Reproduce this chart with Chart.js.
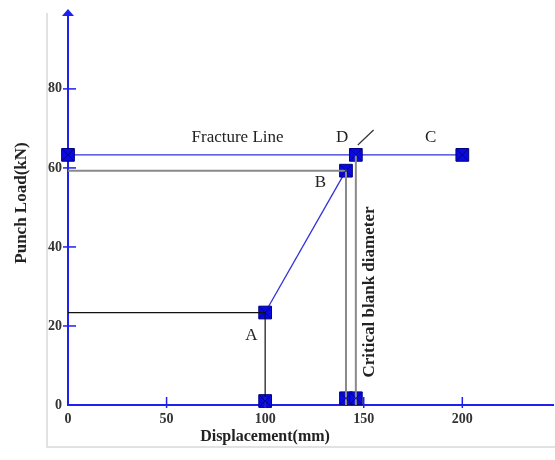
<!DOCTYPE html>
<html lang="en">
<head>
    <meta charset="UTF-8">
    <title>Punch Load vs Displacement</title>
    <script src="https://cdn.jsdelivr.net/npm/chart.js"></script>
    <style>
        html, body { margin: 0; padding: 0; background: #fff; }
        #wrap { width: 555px; height: 460px; position: relative; }
    </style>
</head>
<body>
    <div id="wrap"><canvas id="chart" width="555" height="460"></canvas></div>

    <script>
        // values
        const xTicks = [0, 50, 100, 150, 200];
        const yTicks = [0, 20, 40, 60, 80];

        const fractureX = [0, 146, 200];
        const fractureY = [63.3, 63.3, 63.3];

        const pathX = [100, 141];
        const pathY = [23.4, 59.3];

        const baseX = [100, 141, 146];
        const baseY = [1, 1.7, 1.7];

        const guideAX = [0, 100, 100];
        const guideAY = [23.4, 23.4, 0];
        const guideBX = [0, 141, 141];
        const guideBY = [59.3, 59.3, 0];
        const guideDX = [146, 146];
        const guideDY = [63.3, 0];
        const slashX = [147, 155];
        const slashY = [65.8, 69.6];

        const notes = [
            { text: 'Fracture Line', x: 86, y: 67.8 },
            { text: 'D', x: 139, y: 67.6 },
            { text: 'B', x: 128, y: 56.2 },
            { text: 'C', x: 184, y: 67.8 },
            { text: 'A', x: 93, y: 17.5 }
        ];

        const pts = (xs, ys) => xs.map((x, i) => ({ x: x, y: ys[i] }));
        const BLUE = '#2020ee';
        const SERIF = '"Liberation Serif", "DejaVu Serif", serif';

        function lineSet(xs, ys, color, width) {
            return {
                data: pts(xs, ys), showLine: true, borderColor: color, borderWidth: width,
                pointRadius: 0, pointHoverRadius: 0, clip: false, marker: false
            };
        }
        function markSet(xs, ys, line) {
            return {
                data: pts(xs, ys), showLine: line, borderColor: line ? '#3030dd' : '#000080',
                borderWidth: 1.3, pointStyle: 'rect', pointRadius: 9,
                pointBackgroundColor: '#0a0ae0', pointBorderColor: '#000080', pointBorderWidth: 1,
                clip: false, marker: true
            };
        }

        const decor = {
            id: 'decor',
            beforeDraw(chart) {
                const ctx = chart.ctx;
                ctx.save();
                ctx.strokeStyle = '#e2e2e2';
                ctx.lineWidth = 2;
                ctx.beginPath();
                ctx.moveTo(47, 13);
                ctx.lineTo(47, 447);
                ctx.lineTo(555, 447);
                ctx.stroke();
                ctx.restore();
            },
            afterDraw(chart) {
                const ctx = chart.ctx;
                const xs = chart.scales.x, ys = chart.scales.y;
                const area = chart.chartArea;
                ctx.save();

                // axis ticks crossing the lines
                ctx.strokeStyle = BLUE;
                ctx.lineWidth = 1.5;
                yTicks.forEach(v => {
                    if (v === 0) return;
                    const py = ys.getPixelForValue(v);
                    ctx.beginPath();
                    ctx.moveTo(area.left - 5, py);
                    ctx.lineTo(area.left + 8, py);
                    ctx.stroke();
                });
                xTicks.forEach(v => {
                    if (v === 0) return;
                    const px = xs.getPixelForValue(v);
                    ctx.beginPath();
                    ctx.moveTo(px, area.bottom - 8);
                    ctx.lineTo(px, area.bottom + 3);
                    ctx.stroke();
                });

                // arrow on y axis
                ctx.fillStyle = BLUE;
                ctx.beginPath();
                ctx.moveTo(area.left, area.top - 6);
                ctx.lineTo(area.left - 6, area.top + 1);
                ctx.lineTo(area.left + 6, area.top + 1);
                ctx.closePath();
                ctx.fill();

                // hatch on square markers
                ctx.strokeStyle = '#000070';
                ctx.lineWidth = 0.8;
                chart.data.datasets.forEach((ds, i) => {
                    if (!ds.marker) return;
                    chart.getDatasetMeta(i).data.forEach(p => {
                        const s = 5.5;
                        ctx.beginPath();
                        ctx.moveTo(p.x - s, p.y - s);
                        ctx.lineTo(p.x + s, p.y + s);
                        ctx.moveTo(p.x + s, p.y - s);
                        ctx.lineTo(p.x - s, p.y + s);
                        ctx.stroke();
                    });
                });

                // annotations
                ctx.fillStyle = '#222';
                ctx.textAlign = 'center';
                ctx.textBaseline = 'middle';
                ctx.font = '17px ' + SERIF;
                notes.forEach(n => {
                    ctx.fillText(n.text, xs.getPixelForValue(n.x), ys.getPixelForValue(n.y));
                });

                ctx.font = 'bold 17px ' + SERIF;
                ctx.save();
                ctx.translate(xs.getPixelForValue(153), ys.getPixelForValue(28.6));
                ctx.rotate(-Math.PI / 2);
                ctx.fillText('Critical blank diameter', 0, 0);
                ctx.restore();

                // axis titles
                ctx.font = 'bold 16px ' + SERIF;
                ctx.fillText('Displacement(mm)', 265, 437);
                ctx.font = 'bold 17px ' + SERIF;
                ctx.save();
                ctx.translate(22, 203);
                ctx.rotate(-Math.PI / 2);
                ctx.fillText('Punch Load(kN)', 0, 0);
                ctx.restore();

                ctx.restore();
            }
        };

        new Chart(document.getElementById('chart').getContext('2d'), {
            type: 'scatter',
            data: {
                datasets: [
                    lineSet(guideAX, guideAY, '#111', 1.2),
                    lineSet(guideBX, guideBY, '#8a8a8a', 2),
                    lineSet(guideDX, guideDY, '#8a8a8a', 2),
                    lineSet(slashX, slashY, '#333', 1.2),
                    markSet(fractureX, fractureY, true),
                    markSet(pathX, pathY, true),
                    markSet(baseX, baseY, false)
                ]
            },
            options: {
                responsive: false,
                animation: false,
                layout: { autoPadding: false, padding: { left: 0, top: 15, right: 2, bottom: 0 } },
                plugins: { legend: { display: false }, tooltip: { enabled: false } },
                scales: {
                    x: {
                        type: 'linear', min: 0, max: 246,
                        afterFit: s => { s.height = 55; },
                        afterBuildTicks: s => { s.ticks = xTicks.map(v => ({ value: v })); },
                        grid: { display: false, drawTicks: false },
                        border: { display: true, color: BLUE, width: 2 },
                        ticks: { color: '#333', padding: 6, font: { family: SERIF, size: 14, weight: 'bold' } }
                    },
                    y: {
                        type: 'linear', min: 0, max: 98.7,
                        afterFit: s => { s.width = 68; },
                        afterBuildTicks: s => { s.ticks = yTicks.map(v => ({ value: v })); },
                        grid: { display: false, drawTicks: false },
                        border: { display: true, color: BLUE, width: 2 },
                        ticks: { color: '#333', padding: 6, font: { family: SERIF, size: 14, weight: 'bold' } }
                    }
                }
            },
            plugins: [decor]
        });
    </script>
</body>
</html>
